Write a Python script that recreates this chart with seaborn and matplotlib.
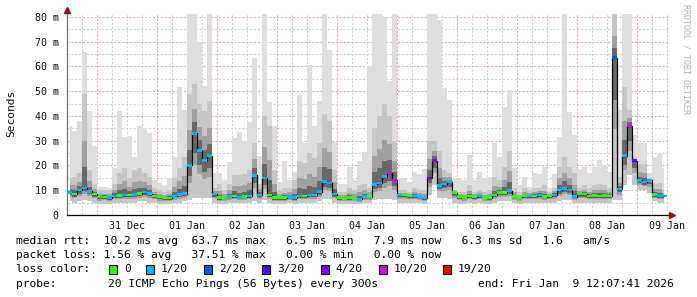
import numpy as np
import pandas as pd
import matplotlib
matplotlib.use("Agg")
import matplotlib.pyplot as plt
import matplotlib.dates as mdates
from matplotlib.patches import Rectangle
import seaborn as sns

# ---------------- data (2-hour bins, ms) ----------------
median_ms = [9.0, 8.5, 10.0, 11.0, 9.5, 8.5, 7.2, 7.3, 7.0, 7.7, 7.9, 8.1, 8.0, 8.3, 8.6, 9.3, 8.6, 7.6, 7.2, 6.9,
             6.8, 7.5, 8.3, 8.6, 20.0, 33.0, 26.0, 22.0, 24.0, 8.5,
             7.0, 7.1, 7.4, 7.7, 7.1, 7.4, 7.7, 16.0, 8.1, 15.0, 8.1, 7.0, 7.0, 7.0, 7.4, 7.0, 7.7, 7.7, 8.0, 8.1,
             9.4, 13.5, 13.0, 8.4, 7.0, 6.7, 7.0, 6.7, 6.3, 7.4,
             7.4, 12.4, 13.0, 15.5, 17.0, 14.0, 8.1, 8.1, 7.7, 7.7, 7.4, 7.0, 15.0, 22.0, 12.0, 12.5, 13.5, 9.0, 7.4, 7.1,
             7.7, 7.4, 7.7, 7.1, 7.0, 8.1, 9.0, 9.0, 9.8, 7.4,
             7.1, 7.8, 7.7, 7.7, 8.1, 7.4, 7.7, 8.1, 10.0, 10.8, 10.0, 7.4, 8.4, 8.5, 7.7, 7.8, 7.7, 7.8, 7.7, 63.6,
             10.5, 24.0, 36.0, 22.0, 14.0, 13.3, 14.0, 8.2, 7.8, 7.7]

max_ms = [36, 34, 38, 66, 42, 28, 11.4, 11.4, 11, 19, 42, 31.6, 32, 23.3, 36, 35, 33, 14, 13, 12.3,
          15, 23.3, 51.8, 42.4, 81, 81, 70, 52, 81, 17,
          17, 14, 21.5, 31, 33.6, 30, 37.7, 63.3, 24, 81, 45.8, 36, 13.5, 22, 14, 17.5, 48.5, 29, 60.6, 36,
          46, 81, 66.6, 29.6, 12.7, 12.7, 19.5, 14, 22, 25.6,
          60, 81, 81, 80, 54.3, 81, 14.8, 14.8, 13.5, 17.5, 16.4, 18.4, 81, 81, 78.7, 51.2, 46.5, 14.8, 14.8, 14,
          24.2, 14, 17.5, 14.8, 15.5, 29, 23.3, 43.8, 50.5, 19,
          12, 15.5, 11.5, 17, 16.4, 19.5, 11, 16.4, 31.6, 81, 41.7, 32.3, 18.4, 19.5, 17, 19.5, 22.3, 20.2, 17.5, 81,
          42.4, 81, 81, 32.3, 29, 29, 17, 23.3, 24.5, 19]

upper_ms = [15, 15.5, 17, 49, 18, 12.7, 10, 10, 10, 12.7, 17, 19, 15, 18, 19, 17, 15.5, 11, 10, 9.4,
            10, 15, 19, 23.3, 49, 53, 45, 42, 46, 11,
            12.7, 10, 12.7, 16, 16, 16.7, 18, 29, 12.7, 39.8, 36, 18, 10, 11, 11, 14, 22, 21, 25, 23,
            29, 41, 38, 18, 9.4, 9.4, 11, 10, 12, 12.7,
            11, 35, 40, 45, 40, 30, 10, 10, 9.4, 11, 10, 10, 30, 30, 26, 18, 17, 9.4, 9.4, 9.4,
            12, 9.4, 10, 9.4, 10, 15.5, 14, 19.5, 26, 11,
            9.4, 11, 10, 11, 11, 12, 9.4, 11, 19.5, 23.3, 19.5, 17, 11, 12, 11, 12, 12.7, 12, 11, 81,
            15.5, 51.8, 42.4, 23.3, 20.8, 20.8, 12.7, 12.7, 13, 10]

min_ms = [5.5, 5, 5.5, 6, 5.5, 5, 4.5, 4.5, 4.5, 5, 5, 5, 5, 5, 5.5, 5.5, 5, 5, 4.5, 4.5,
          4.5, 5, 5, 5.5, 6, 7, 7, 7, 7, 5,
          4.5, 4.5, 5, 5, 5, 5, 5, 5.5, 5, 6, 5, 4.5, 4.5, 4.5, 5, 4.5, 5, 5, 5, 5,
          5.5, 6.5, 6.5, 5, 4.5, 4.5, 4.5, 4.5, 4.5, 5,
          5, 6, 6.5, 6.5, 6.5, 6, 5, 5, 5, 5, 5, 4.5, 8, 12, 7, 7, 6.5, 5, 4.5, 4.5,
          5, 4.5, 5, 4.5, 4.5, 5, 5.5, 5.5, 5.5, 5,
          4.5, 5, 5, 5, 5, 5, 5, 5, 5.5, 6, 6, 5, 5, 5, 5, 5, 5, 5, 5, 6,
          6, 12, 16, 12, 10, 10, 9, 5.5, 5, 5]

lost_pings = [1, 0, 1, 1, 1, 0, 0, 0, 1, 1, 0, 1, 0, 1, 0, 1, 1, 0, 0, 0, 0, 1, 1, 1, 1, 1, 1, 1, 1, 1,
              0, 0, 1, 0, 1, 0, 1, 1, 1, 1, 0, 0, 0, 0, 1, 1, 1, 0, 1, 1, 1, 1, 1, 1, 0, 0, 0, 0, 1, 1,
              0, 1, 1, 1, 10, 10, 1, 0, 0, 1, 1, 1, 3, 4, 1, 1, 1, 0, 0, 0, 0, 0, 1, 0, 0, 0, 0, 0, 1, 0,
              0, 0, 1, 0, 1, 0, 0, 1, 1, 1, 1, 1, 0, 0, 0, 0, 0, 0, 0, 2, 1, 1, 10, 3, 1, 1, 1, 0, 1, 1]

loss_levels = [0, 1, 2, 3, 4, 10, 19]
loss_labels = ["0", "1/20", "2/20", "3/20", "4/20", "10/20", "19/20"]
loss_colors = ["#26ff00", "#00b8ff", "#0059ff", "#5e00ff", "#7e00ff", "#dd00ff", "#ff0000"]

day_labels = ["31 Dec", "01 Jan", "02 Jan", "03 Jan", "04 Jan", "05 Jan", "06 Jan", "07 Jan", "08 Jan", "09 Jan"]
y_ticks = [0, 10, 20, 30, 40, 50, 60, 70, 80]
y_tick_labels = ["0", "10 m", "20 m", "30 m", "40 m", "50 m", "60 m", "70 m", "80 m"]

stats_rtt = "median rtt:  10.2 ms avg  63.7 ms max   6.5 ms min   7.9 ms now   6.3 ms sd   1.6   am/s"
stats_loss = "packet loss: 1.56 % avg   37.51 % max   0.00 % min   0.00 % now"
probe_text = "20 ICMP Echo Pings (56 Bytes) every 300s"
end_text = "end: Fri Jan  9 12:07:41 2026"

start = pd.Timestamp("2025-12-30 12:07:41")
end = pd.Timestamp("2026-01-09 12:07:41")

# ---------------- figure ----------------
sns.set_style("white")
MONO = ["DejaVu Sans Mono"]
plt.rcParams["font.family"] = MONO

W, H = 697, 297
fig = plt.figure(figsize=(W / 100, H / 100), dpi=100)
fig.patch.set_facecolor("white")
ax = fig.add_axes([67 / W, 82 / H, 602 / W, 202 / H])

n = len(median_ms)
step = (end - start) / n
times = pd.DatetimeIndex([start + step * (i + 0.5) for i in range(n)])
t = mdates.date2num(times.to_pydatetime())

med = np.array(median_ms, float)
hi = np.array(max_ms, float)
up = np.maximum(np.array(upper_ms, float), med + 1.0)
lo = np.minimum(np.array(min_ms, float), med - 0.5)

x0 = mdates.date2num(start.to_pydatetime())
x1 = x0 + 240.8 / 24.0
ax.set_xlim(x0, x1)
ax.set_ylim(0, 81.6)

# grid
gray_c, red_c = "#cccccc", "#e2a8a8"
for gt in pd.date_range("2025-12-30 18:00", "2026-01-09 12:00", freq="6h"):
    c = red_c if gt.hour == 0 else gray_c
    ax.axvline(mdates.date2num(gt.to_pydatetime()), color=c, lw=0.7, ls=(0, (2, 2)), zorder=0)
for v in range(5, 81, 5):
    c = red_c if v % 10 == 0 else gray_c
    ax.axhline(v, color=c, lw=0.7, ls=(0, (2, 2)), zorder=0)

# smoke
ax.fill_between(t, lo, hi, step="mid", color="#dedede", lw=0, zorder=1)
ax.fill_between(t, lo, up, step="mid", color="#c6c6c6", lw=0, zorder=1.2)
ax.fill_between(t, (lo + med) / 2, (med + up) / 2, step="mid", color="#a0a0a0", lw=0, zorder=1.4)
ax.fill_between(t, med - (med - lo) * 0.3, med + (up - med) * 0.22, step="mid", color="#686868", lw=0, zorder=1.6)

# median line
sns.lineplot(x=t, y=med, drawstyle="steps-mid", color="black", lw=0.9, ax=ax, zorder=4, estimator=None)

# loss-coloured median marks
lab_map = dict(zip(loss_levels, loss_labels))
df = pd.DataFrame({"t": t, "median": med, "loss": [lab_map[v] for v in lost_pings]})
rect = [(-1, -0.5), (1, -0.5), (1, 0.5), (-1, 0.5), (-1, -0.5)]
sns.scatterplot(data=df, x="t", y="median", hue="loss", palette=dict(zip(loss_labels, loss_colors)),
                marker=rect, s=13, linewidth=0, legend=False, ax=ax, zorder=5)

# axes styling
for s in ["top", "right"]:
    ax.spines[s].set_visible(False)
ax.spines["left"].set_color("#707070")
ax.spines["left"].set_linewidth(0.9)
ax.spines["bottom"].set_color("black")
ax.spines["bottom"].set_linewidth(0.9)
ax.set_xlabel("")
ax.set_ylabel("")

noons = pd.date_range("2025-12-31 12:00", periods=len(day_labels), freq="D")
ax.set_xticks(mdates.date2num(noons.to_pydatetime()))
ax.set_xticklabels(day_labels)
ax.set_yticks(y_ticks)
ax.set_yticklabels(y_tick_labels)
ax.tick_params(axis="x", length=0, pad=4, labelsize=7.2, labelcolor="#111111")
ax.tick_params(axis="y", length=0, pad=6, labelsize=7.2, labelcolor="#111111")

# arrows
ax.plot([0], [(215 - 10) / 202], transform=ax.transAxes, marker="^", ms=4, color="#8b1010",
        clip_on=False, zorder=6)
ax.plot([(672 - 67) / 602], [0], transform=ax.transAxes, marker=">", ms=4, color="#8b1010",
        clip_on=False, zorder=6)

# y label and watermark
fig.text(11 / W, 1 - 113 / H, "Seconds", rotation=90, ha="center", va="center", fontsize=8.1,
         family=MONO, color="#111111")
fig.text(686 / W, 1 - 4 / H, "RRDTOOL / TOBI OETIKER", rotation=270, ha="center", va="top",
         fontsize=6, family=MONO, color="#b4b4b4")

# legend text
def ftext(xp, yp, s, **kw):
    fig.text(xp / W, 1 - yp / H, s, ha="left", va="center", fontsize=8.1, family=MONO,
             color="black", **kw)

ftext(16, 241, stats_rtt)
ftext(16, 255, stats_loss)
ftext(16, 269, "loss color:")
box_x = [109, 146, 204, 262, 321, 379, 443]
for bx, lab, col in zip(box_x, loss_labels, loss_colors):
    fig.add_artist(Rectangle((bx / W, 1 - 274 / H), 8 / W, 9 / H, transform=fig.transFigure,
                             facecolor=col, edgecolor="black", lw=0.8))
    ftext(bx + 15, 269, lab)
ftext(16, 284, "probe:")
ftext(108, 284, probe_text)
ftext(478, 284, end_text)

fig.savefig("out.png", dpi=100)
